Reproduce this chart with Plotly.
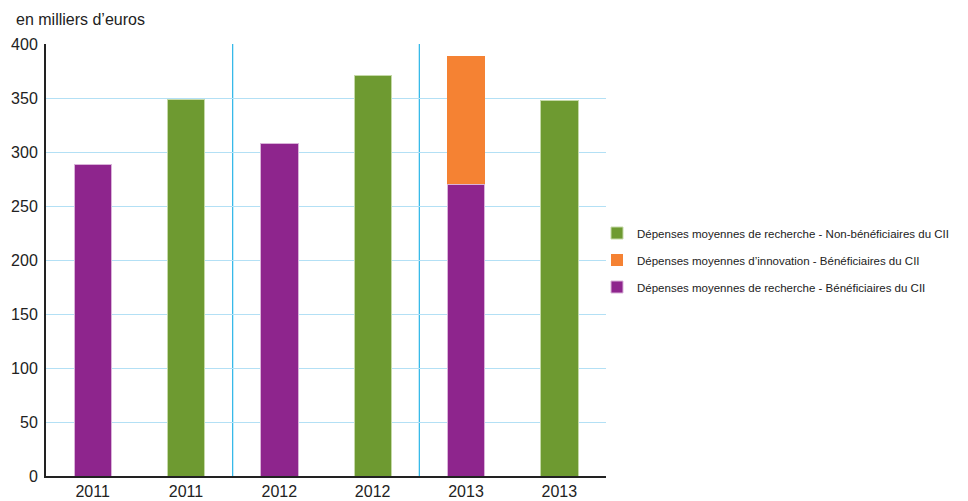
import plotly.graph_objects as go

categories = ["2011", "2011", "2012", "2012", "2013", "2013"]
rech_benef_x = [0, 2, 4]
rech_benef = [288, 308, 270]
innov_benef_x = [4]
innov_benef = [119]
rech_non_x = [1, 3, 5]
rech_non = [349, 371, 348]
y_ticks = [0, 50, 100, 150, 200, 250, 300, 350, 400]

FONT = "Liberation Sans Narrow, Arial Narrow, Liberation Sans, sans-serif"

L, T, PW, PH = 38, 36, 560, 432

fig = go.Figure()
fig.add_trace(go.Bar(x=rech_benef_x, y=rech_benef, name="Dépenses moyennes de recherche - Bénéficiaires du CII",
                     legendgroup="a", legendrank=3,
                     marker=dict(color="#8e258d", line=dict(color="#d9b3d9", width=1)), width=0.4))
fig.add_trace(go.Bar(x=innov_benef_x, y=innov_benef, name="Dépenses moyennes d’innovation - Bénéficiaires du CII",
                     legendgroup="b", legendrank=2,
                     marker=dict(color="#f58233", line=dict(width=0)), width=0.4))
fig.add_trace(go.Bar(x=rech_non_x, y=rech_non, name="Dépenses moyennes de recherche - Non-bénéficiaires du CII",
                     legendgroup="c", legendrank=1,
                     marker=dict(color="#6e9a31", line=dict(color="#c5d9a8", width=1)), width=0.4))

for xv in [1.5, 3.5]:
    fig.add_shape(type="line", x0=xv, x1=xv, y0=0, y1=1, xref="x", yref="paper",
                  line=dict(color="#29b5e8", width=1.2), layer="below")

fig.add_annotation(text="en milliers d’euros", x=(6 - L) / PW, y=(PH + T - 12) / PH,
                   xref="paper", yref="paper", showarrow=False, xanchor="left", yanchor="middle",
                   font=dict(size=16, color="#222"))

fig.update_layout(
    width=968, height=501,
    margin=dict(l=L, r=968 - L - PW, t=T, b=501 - T - PH, autoexpand=False),
    plot_bgcolor="white", paper_bgcolor="white",
    barmode="stack",
    font=dict(family=FONT, size=16, color="#222"),
    showlegend=True,
    legend=dict(x=(589 - L) / PW, y=(PH + T - 252) / PH, xanchor="left", yanchor="middle",
                traceorder="grouped",
                font=dict(size=11.5, color="#222"), itemwidth=30, tracegroupgap=8,
                bgcolor="rgba(0,0,0,0)"),
    xaxis=dict(range=[-0.5, 5.5], tickvals=list(range(len(categories))), ticktext=categories,
               showgrid=False, showline=True, linecolor="#222", linewidth=2, ticks="",
               tickfont=dict(size=16), zeroline=False, automargin=False),
    yaxis=dict(range=[0, 400], tickvals=y_ticks, showgrid=True, gridcolor="#b3e0f5", gridwidth=1,
               showline=True, linecolor="#222", linewidth=2, ticks="", tickfont=dict(size=16),
               zeroline=False, ticklabelstandoff=3, automargin=False),
    bargap=0.6,
)

fig.write_html("out.html")
